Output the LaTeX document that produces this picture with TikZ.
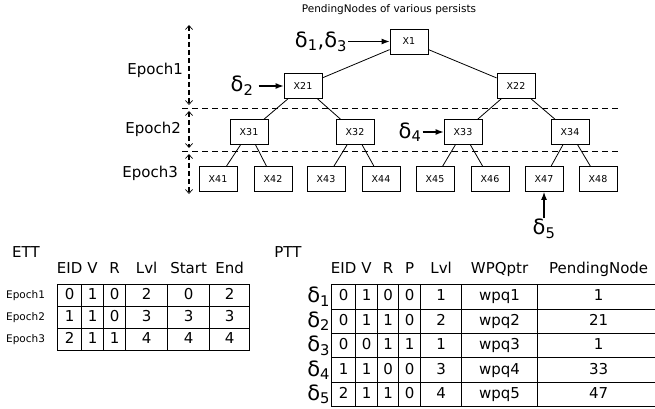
\documentclass[tikz,border=0pt]{standalone}
\usepackage{fontspec}
\setmainfont{DejaVu Sans}
\usetikzlibrary{arrows.meta, positioning, matrix}

\begin{document}

\begin{tikzpicture}[x = 1pt, y = -1pt, > = {Latex[length = 8pt, width = 6pt]},
	box/.style = {draw, line width = 0.8pt, minimum width = 38pt, minimum height = 25pt, inner sep = 0pt, font = \fontsize{9.5}{11}\selectfont},
	link/.style = {line width = 0.8pt},
	pointer/.style = {->, line width = 1.2pt},
	dlabel/.style = {inner sep = 1pt, font = \fontsize{21}{24}\selectfont},
	epoch/.style = {inner sep = 1pt, font = \fontsize{15}{18}\selectfont},
	epochspan/.style = {{Straight Barb[length = 4pt, width = 7pt, line width = 0.7pt]}-{Straight Barb[length = 4pt, width = 7pt, line width = 0.7pt]}, line width = 1.3pt, dash pattern = on 5pt off 3pt},
	epochsep/.style = {line width = 0.8pt, dash pattern = on 6pt off 4pt},
	datatab/.style = {matrix of nodes, inner sep = 0pt, row sep = -0.8pt, column sep = -0.8pt, nodes = {draw, line width = 0.8pt, inner sep = 0pt, anchor = center, text height = 11pt, text depth = 3pt, font = \fontsize{15}{18}\selectfont}},
	colhead/.style = {inner sep = 1pt, text height = 11pt, text depth = 3pt, font = \fontsize{15}{18}\selectfont},
	rowlab/.style = {inner sep = 1pt, font = \fontsize{10.5}{12}\selectfont},
	caption/.style = {font = \fontsize{10.5}{12}\selectfont}]

	\useasboundingbox (0, 0) rectangle (655, 409);

	\node [caption] (title) at (389, 10) {PendingNodes of various persists};

	\node [box] (x1) at (409, 41.5) {X1};

	\node [box] (x21) at (303, 86) {X21};
	\node [box] (x22) at (516, 86) {X22};

	\node [box] (x31) at (249, 132) {X31};
	\node [box] (x32) at (355, 132) {X32};
	\node [box] (x33) at (463, 132) {X33};
	\node [box] (x34) at (570, 132) {X34};

	\node [box] (x41) at (218, 179) {X41};
	\node [box] (x42) at (273, 179) {X42};
	\node [box] (x43) at (326, 179) {X43};
	\node [box] (x44) at (381, 179) {X44};
	\node [box] (x45) at (435, 179) {X45};
	\node [box] (x46) at (490, 179) {X46};
	\node [box] (x47) at (544, 179) {X47};
	\node [box] (x48) at (598, 179) {X48};

	\draw [link] (x1) -- (x21);
	\draw [link] (x1) -- (x22);

	\draw [link] (x21) -- (x31);
	\draw [link] (x21) -- (x32);
	\draw [link] (x22) -- (x33);
	\draw [link] (x22) -- (x34);

	\draw [link] (x31) -- (x41);
	\draw [link] (x31) -- (x42);
	\draw [link] (x32) -- (x43);
	\draw [link] (x32) -- (x44);
	\draw [link] (x33) -- (x45);
	\draw [link] (x33) -- (x46);
	\draw [link] (x34) -- (x47);
	\draw [link] (x34) -- (x48);

	\node [dlabel] (d13) at (321, 41.5) {δ\textsubscript{1},δ\textsubscript{3}};
	\draw [pointer] (d13) -- (x1);

	\node [dlabel] (d2) at (242, 86) {δ\textsubscript{2}};
	\draw [pointer, shorten < = 4pt] (d2) -- (x21);

	\node [dlabel] (d4) at (410, 132) {δ\textsubscript{4}};
	\draw [pointer] (d4) -- (x33);

	\node [dlabel] (d5) at (544, 229) {δ\textsubscript{5}};
	\draw [pointer] (d5) -- (x47);

	\draw [epochsep] (182, 108) -- (620, 108);
	\draw [epochsep] (182, 151) -- (620, 151);

	\node [epoch, anchor = east] (ep1) at (184, 70) {Epoch1};
	\node [epoch, anchor = east] (ep2) at (182, 129) {Epoch2};
	\node [epoch, anchor = east] (ep3) at (179, 173) {Epoch3};

	\draw [epochspan] (189, 25) -- (189, 105);
	\draw [epochspan] (189, 111) -- (189, 148);
	\draw [epochspan] (189, 154) -- (189, 194);

	\node [colhead] (ettlab) at (26, 253) {ETT};

	\matrix (ett) [datatab, anchor = north west,
		nodes = {minimum height = 22pt},
		column 1/.style = {nodes = {minimum width = 24pt}},
		column 2/.style = {nodes = {minimum width = 22pt}},
		column 3/.style = {nodes = {minimum width = 22pt}},
		column 4/.style = {nodes = {minimum width = 42pt}},
		column 5/.style = {nodes = {minimum width = 42pt}},
		column 6/.style = {nodes = {minimum width = 40pt}}] at (57, 284) {
		0 & 1 & 0 & 2 & 0 & 2 \\
		1 & 1 & 0 & 3 & 3 & 3 \\
		2 & 1 & 1 & 4 & 4 & 4 \\
	};

	\node [colhead, above = 7pt of ett-1-1] (etth1) {EID};
	\node [colhead, above = 7pt of ett-1-2] (etth2) {V};
	\node [colhead, above = 7pt of ett-1-3] (etth3) {R};
	\node [colhead, above = 7pt of ett-1-4] (etth4) {Lvl};
	\node [colhead, above = 7pt of ett-1-5] (etth5) {Start};
	\node [colhead, above = 7pt of ett-1-6] (etth6) {End};

	\node [rowlab, left = 11pt of ett-1-1] (ettr1) {Epoch1};
	\node [rowlab, left = 11pt of ett-2-1] (ettr2) {Epoch2};
	\node [rowlab, left = 11pt of ett-3-1] (ettr3) {Epoch3};

	\node [colhead] (pttlab) at (288, 253) {PTT};

	\matrix (ptt) [datatab, anchor = north west,
		nodes = {minimum height = 24.4pt},
		column 1/.style = {nodes = {minimum width = 24pt}},
		column 2/.style = {nodes = {minimum width = 22pt}},
		column 3/.style = {nodes = {minimum width = 21pt}},
		column 4/.style = {nodes = {minimum width = 22pt}},
		column 5/.style = {nodes = {minimum width = 41pt}},
		column 6/.style = {nodes = {minimum width = 76pt}},
		column 7/.style = {nodes = {minimum width = 122pt}}] at (331, 284) {
		0 & 1 & 0 & 0 & 1 & wpq1 & 1 \\
		0 & 1 & 1 & 0 & 2 & wpq2 & 21 \\
		0 & 0 & 1 & 1 & 1 & wpq3 & 1 \\
		1 & 1 & 0 & 0 & 3 & wpq4 & 33 \\
		2 & 1 & 1 & 0 & 4 & wpq5 & 47 \\
	};

	\node [colhead, above = 7pt of ptt-1-1] (ptth1) {EID};
	\node [colhead, above = 7pt of ptt-1-2] (ptth2) {V};
	\node [colhead, above = 7pt of ptt-1-3] (ptth3) {R};
	\node [colhead, above = 7pt of ptt-1-4] (ptth4) {P};
	\node [colhead, above = 7pt of ptt-1-5] (ptth5) {Lvl};
	\node [colhead, above = 7pt of ptt-1-6] (ptth6) {WPQptr};
	\node [colhead, above = 7pt of ptt-1-7] (ptth7) {PendingNode};

	\node [dlabel, left = 0pt of ptt-1-1] (pttr1) {δ\textsubscript{1}};
	\node [dlabel, left = 0pt of ptt-2-1] (pttr2) {δ\textsubscript{2}};
	\node [dlabel, left = 0pt of ptt-3-1] (pttr3) {δ\textsubscript{3}};
	\node [dlabel, left = 0pt of ptt-4-1] (pttr4) {δ\textsubscript{4}};
	\node [dlabel, left = 0pt of ptt-5-1] (pttr5) {δ\textsubscript{5}};

\end{tikzpicture}

\end{document}
